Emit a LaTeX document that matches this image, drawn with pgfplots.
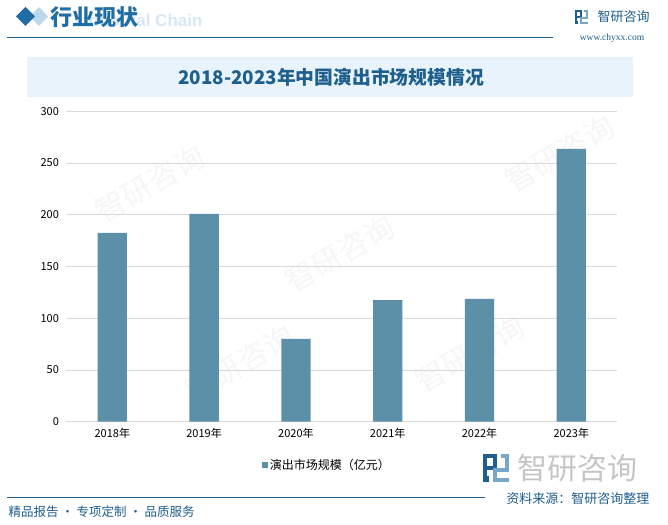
\documentclass[border=0pt]{standalone}
\usepackage{fontspec}
\setmainfont{Noto Sans CJK SC}
\newfontfamily\serifw{Liberation Serif}
\newfontfamily\latsans{Liberation Sans}
\usepackage{pgfplots}
\pgfplotsset{compat=1.18}
\definecolor{barc}{HTML}{5B90A8}
\definecolor{dblue}{HTML}{1E5F8E}
\definecolor{hblue}{HTML}{1F6DA5}
\definecolor{lblue}{HTML}{BCD8EC}
\definecolor{tbox}{HTML}{E8F3FB}
\definecolor{gridc}{HTML}{D9D9D9}
\definecolor{wm}{HTML}{9AA5B1}
\newcommand{\logoicon}[3]{% x y scale
  \begin{scope}[shift={(#1,#2)},scale=#3]
    \fill[dblue] (0,0) rectangle (2,14);
    \fill[dblue] (0,12) rectangle (7,14);
    \fill[dblue] (5,6) rectangle (7,14);
    \fill[dblue] (2,6) rectangle (7,8);
    \fill[hblue!60] (9,14) rectangle (13,12);
    \fill[hblue!60] (11,12) rectangle (13,7);
    \fill[hblue!60] (5,5) rectangle (13,7);
    \fill[hblue!60] (5,5) rectangle (7,0);
    \fill[hblue!60] (5,0) rectangle (13,2);
    \fill[dblue] (0,0) rectangle (3,3);
  \end{scope}}
\begin{document}
\begin{tikzpicture}[x=1pt,y=1pt]
\useasboundingbox (0,0) rectangle (668,524);
\clip (0,0) rectangle (668,524);
\fill[white] (0,0) rectangle (668,524);
% watermarks
\foreach \px/\py in {150/340, 340/270, 560/370, 240/160, 470/170}{
  \node[rotate=30, text=wm, opacity=0.09, font=\fontsize{30}{30}\selectfont] at (\px,\py) {智研咨询};
}
% header
\node[anchor=east, text=lblue!60, font=\latsans\bfseries\fontsize{17}{17}\selectfont] at (206,504) {Industrial Chain};
\fill[lblue] (39,517) -- (48,507.5) -- (39,498) -- (30,507.5) -- cycle;
\fill[hblue] (25.5,517) -- (35,507.5) -- (25.5,498) -- (16,507.5) -- cycle;
\node[anchor=west, text=hblue, font=\bfseries\fontsize{22}{22}\selectfont] at (47,507) {行业现状};
\draw[dblue, line width=1pt] (7,486) -- (553,486);
\logoicon{575}{500}{1}
\node[anchor=west, text=dblue, font=\fontsize{13}{13}\selectfont] at (594,507) {智研咨询};
\node[anchor=center, text=dblue, font=\serifw\fontsize{9.5}{9.5}\selectfont] at (612,486) {www.chyxx.com};
% title box
\fill[tbox] (27,467) rectangle (633,427);
\node[text=dblue, font=\bfseries\fontsize{18.8}{18.8}\selectfont] at (331,447) {2018-2023年中国演出市场规模情况};
% footer
\draw[dblue, line width=1pt] (7,27) -- (485,27);
\logoicon{483}{42}{2}
\node[anchor=west, text=gray, opacity=0.45, font=\fontsize{30}{30}\selectfont] at (514,56) {智研咨询};
\node[anchor=east, text=dblue, font=\fontsize{13}{13}\selectfont] at (653,25) {资料来源：智研咨询整理};
\node[anchor=west, text=dblue, font=\fontsize{12.5}{12.5}\selectfont] at (5,12) {精品报告 · 专项定制 · 品质服务};
\begin{axis}[
  at={(66.4pt,102.3pt)}, anchor=south west, scale only axis,
  width=550.8pt, height=310.4pt,
  ybar, bar width=29.3pt,
  xmin=-0.5, xmax=5.5, ymin=0, ymax=300,
  xtick=data, xticklabels={2018年,2019年,2020年,2021年,2022年,2023年},
  ytick={0,50,100,150,200,250,300},
  ymajorgrids, grid style={gridc, line width=0.8pt},
  axis line style={draw=none},
  axis x line*=bottom, axis y line*=left,
  major tick length=0pt,
  x axis line style={draw=gridc, line width=0.8pt},
  /pgf/number format/assume math mode=true,
  tick label style={font=\fontsize{11}{11}\selectfont, text=black},
  yticklabel style={xshift=-4pt},
  xticklabel style={yshift=-3pt},
  legend style={at={(0.473,-0.1395)}, anchor=center, draw=none, fill=none,
    font=\fontsize{12}{12}\selectfont},
  legend image code/.code={\fill[barc] (0pt,-3pt) rectangle (6pt,3pt);},
]
\addplot[fill=barc, draw=none] coordinates {(0,182.4) (1,200.9) (2,80) (3,117.6) (4,118.6) (5,263.6)};
\addlegendentry{演出市场规模（亿元）}
\end{axis}
\end{tikzpicture}
\end{document}
